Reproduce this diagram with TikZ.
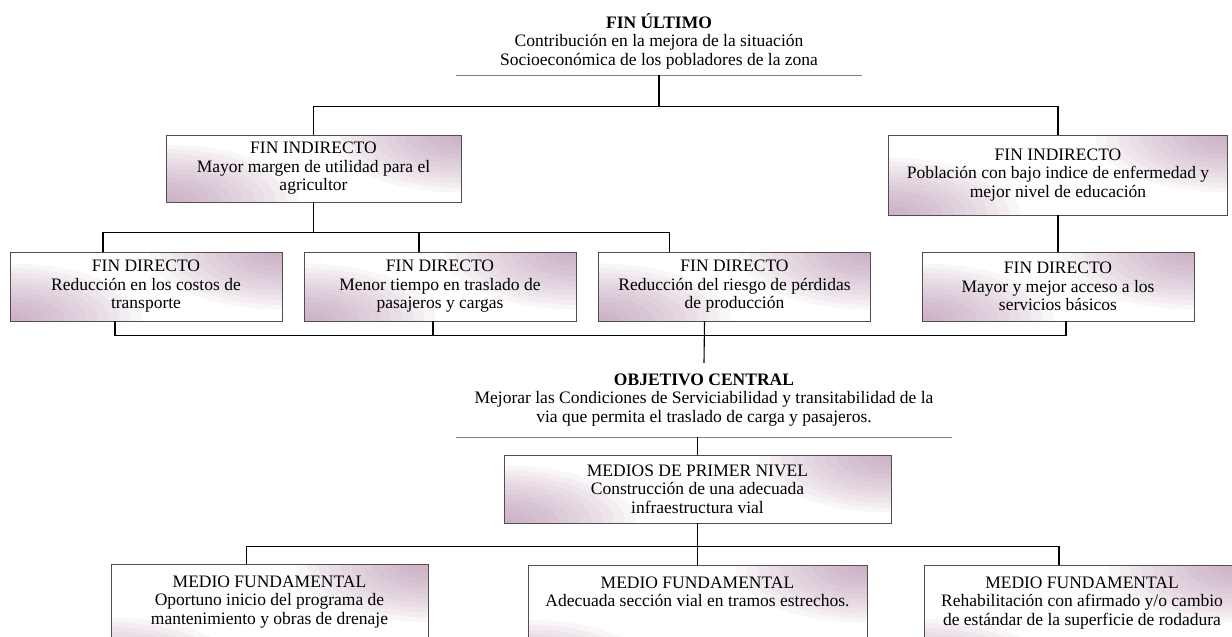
\documentclass[tikz,border=0pt]{standalone}
\usepackage{fontspec}
\setmainfont{Liberation Serif}
\usetikzlibrary{calc}
\definecolor{boxpink}{RGB}{175,130,165}
\definecolor{boxline}{RGB}{85,75,85}
\definecolor{rulegray}{RGB}{130,130,130}
\tikzstyle{finbox} = [draw=boxline, line width=0.9pt, rectangle, fill=white,
    path picture={
      \foreach \k in {1,...,12} {
        \fill[boxpink, opacity=0.07] (path picture bounding box.north east)
          ellipse ({11*\k pt} and {4.8*\k pt});
        \fill[boxpink, opacity=0.07] (path picture bounding box.south west)
          ellipse ({11*\k pt} and {4.8*\k pt});
      }
    },
    align=center, inner sep=4pt, font=\fontsize{17.5}{18.5}\selectfont]
\tikzstyle{directo} = [finbox, minimum width=272pt, minimum height=69pt]
\tikzstyle{medio} = [finbox, anchor=north, inner ysep=11pt]
\tikzstyle{fintitle} = [align=center, inner sep=0pt,
    font=\fontsize{17.5}{18.5}\selectfont]
\tikzstyle{link} = [line width=1.1pt, black]
\tikzstyle{underline} = [line width=0.8pt, rulegray]

\begin{document}
\begin{tikzpicture}[x=1pt, y=-1pt]
\useasboundingbox (0,0) rectangle (1232,637);
\clip (0,0) rectangle (1232,637);

\node[fintitle, minimum width=406pt, minimum height=68pt] (fu) at (659,41)
    {\textbf{FIN ÚLTIMO}\\Contribución en la mejora de la situación\\Socioeconómica de los pobladores de la zona};
\draw[underline] (fu.south west) -- (fu.south east);

\node[finbox, minimum width=295pt, minimum height=67pt] (fi1) at (313.5,168.5)
    {FIN INDIRECTO\\Mayor margen de utilidad para el\\agricultor};
\node[finbox, minimum width=339pt, minimum height=80pt] (fi2) at (1058,175)
    {FIN INDIRECTO\\Población con bajo indice de enfermedad y\\mejor nivel de educación};

\node[directo] (fd1) at (146,286.5) {FIN DIRECTO\\Reducción en los costos de\\transporte};
\node[directo] (fd2) at (440,286.5) {FIN DIRECTO\\Menor tiempo en traslado de\\pasajeros y cargas};
\node[directo] (fd3) at (734.5,286.5) {FIN DIRECTO\\Reducción del riesgo de pérdidas\\de producción};
\node[directo] (fd4) at (1058,286.5) {FIN DIRECTO\\Mayor y mejor acceso a los\\servicios básicos};

\node[fintitle, minimum width=496pt, minimum height=74pt] (oc) at (704,400)
    {\textbf{OBJETIVO CENTRAL}\\Mejorar las Condiciones de Serviciabilidad y transitabilidad de la\\via que permita el traslado de carga y pasajeros.};
\draw[underline] (oc.south west) -- (oc.south east);

\node[finbox, minimum width=387pt, minimum height=68pt] (mp) at (697.5,489)
    {MEDIOS DE PRIMER NIVEL\\Construcción de una adecuada\\infraestructura vial};

\node[medio, minimum width=317pt] (mf1) at (269.5,564)
    {MEDIO FUNDAMENTAL\\Oportuno inicio del programa de\\mantenimiento y obras de drenaje\rule[-40pt]{0pt}{40pt}};
\node[medio, minimum width=339pt] (mf2) at (697.5,565)
    {MEDIO FUNDAMENTAL\\Adecuada sección vial en tramos estrechos.\rule[-60pt]{0pt}{60pt}};
\node[medio, minimum width=316pt] (mf3) at (1082,565)
    {MEDIO FUNDAMENTAL\\Rehabilitación con afirmado y/o cambio\\de estándar de la superficie de rodadura\rule[-40pt]{0pt}{40pt}};

\coordinate (top) at ($(fu.south)+(0,31)$);
\draw[link] (fu.south) -- (top);
\draw[link] (fi1.north) |- (top) -| (fi2.north);

\coordinate (mid) at ($(fi1.south)+(0,30)$);
\draw[link] (fi1.south) -- (mid);
\draw[link] ([xshift=-43pt]fd1.north) |- (mid) -| ([xshift=-65pt]fd3.north);
\draw[link] ([xshift=-21pt]fd2.north) -- ++(0,-20);
\draw[link] (fi2.south) -- (fd4.north);

\coordinate (low) at ($(fd3.south)+(-30,14)$);
\draw[link] ([xshift=-31pt]fd1.south) |- (low) -| ([xshift=8pt]fd4.south);
\draw[link] ([xshift=-7pt]fd2.south) -- ++(0,14);
\draw[link] ([xshift=-30pt]fd3.south) -- (oc.north);

\draw[link] (oc.south -| mp.north) -- (mp.north);
\coordinate (bot) at ($(mp.south)+(0,23)$);
\draw[link] (mp.south) -- (mf2.north);
\draw[link] ([xshift=-23pt]mf1.north) |- (bot) -| ([xshift=-23pt]mf3.north);
\end{tikzpicture}
\end{document}
